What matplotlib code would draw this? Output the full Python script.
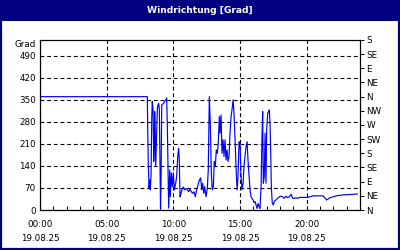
import matplotlib
matplotlib.use("Agg")
import matplotlib.pyplot as plt
from matplotlib.patches import Rectangle
from matplotlib.ticker import FixedLocator, MultipleLocator

title = "Windrichtung [Grad]"
unit_label = "Grad"

# time of day in hours (19.08.25) and wind direction in degrees
hours = [0.00, 8.05, 8.07, 8.12, 8.18, 8.23, 8.27, 8.33, 8.38, 8.42, 8.48, 8.53, 8.57, 8.60,
         8.65, 8.68, 8.74, 8.80, 8.85, 8.90, 8.95, 9.00, 9.04, 9.08, 9.13, 9.19, 9.25, 9.32,
         9.38, 9.44, 9.50, 9.55, 9.58, 9.65, 9.73, 9.77, 9.85, 9.92, 10.00, 10.07, 10.18,
         10.25, 10.33, 10.40, 10.45, 10.50, 10.58, 10.65, 10.75, 10.85, 10.95, 11.05, 11.15,
         11.25, 11.35, 11.45, 11.55, 11.65, 11.75, 11.85, 11.95, 12.05, 12.13, 12.20, 12.28,
         12.35, 12.45, 12.55, 12.62, 12.70, 12.77, 12.85, 12.92, 13.00, 13.07, 13.15, 13.22,
         13.30, 13.37, 13.45, 13.50, 13.58, 13.65, 13.73, 13.80, 13.88, 13.95, 14.03, 14.10,
         14.18, 14.25, 14.33, 14.40, 14.48, 14.55, 14.63, 14.70, 14.78, 14.85, 14.93, 15.00,
         15.08, 15.15, 15.23, 15.30, 15.38, 15.45, 15.53, 15.60, 15.68, 15.75, 15.83, 15.90,
         15.98, 16.05, 16.13, 16.20, 16.28, 16.35, 16.43, 16.50, 16.58, 16.65, 16.70, 16.75,
         16.82, 16.88, 16.95, 17.00, 17.08, 17.15, 17.20, 17.25, 17.30, 17.35, 17.42, 17.50,
         17.57, 17.70, 17.83, 17.95, 18.08, 18.20, 18.32, 18.45, 18.58, 18.70, 18.83, 18.95,
         19.07, 19.20, 19.33, 19.45, 19.73, 20.10, 20.48, 20.85, 21.23, 21.50, 21.75, 21.98,
         22.35, 22.73, 23.25, 23.80]
degrees = [360, 360, 286, 150, 69, 95, 64, 111, 290, 345, 318, 154, 200, 313,
           240, 140, 230, 320, 334, 338, 320, 140, 3, 100, 334, 336, 338, 342,
           346, 350, 356, 270, 196, 6, 127, 42, 118, 74, 118, 64, 86,
           107, 170, 196, 154, 42, 53, 64, 73, 64, 68, 64, 58,
           66, 58, 53, 58, 42, 64, 80, 95, 102, 64, 85, 53,
           74, 42, 69, 127, 360, 276, 118, 64, 74, 154, 138, 191,
           180, 212, 297, 244, 302, 180, 223, 170, 223, 159, 191, 154,
           170, 244, 297, 318, 350, 308, 223, 138, 64, 106, 217, 212,
           106, 64, 85, 138, 170, 201, 217, 159, 106, 64, 42, 37,
           32, 24, 27, 16, 5, 21, 11, 5, 74, 233, 313, 85,
           106, 244, 85, 255, 308, 313, 318, 276, 191, 74, 22, 16,
           27, 32, 37, 42, 44, 42, 37, 44, 39, 42, 50, 37,
           37, 39, 37, 40, 40, 40, 45, 45, 45, 32, 39, 42,
           46, 48, 49, 51]

x_major = [0, 5, 10, 15, 20]
x_labels = ["00:00\n19.08.25", "05:00\n19.08.25", "10:00\n19.08.25",
            "15:00\n19.08.25", "20:00\n19.08.25"]
y_left_ticks = [0, 70, 140, 210, 280, 350, 420, 490]
y_right_ticks = [0, 45, 90, 135, 180, 225, 270, 315, 360, 405, 450, 495, 540]
y_right_labels = ["N", "NE", "E", "SE", "S", "SW", "W", "NW", "N", "NE", "E", "SE", "S"]

navy = "#000080"
fs = 6.3

fig = plt.figure(figsize=(4, 2.5), dpi=100)
fig.patch.set_facecolor("white")

# title bar and border
fig.add_artist(Rectangle((0, 1 - 21 / 250), 1, 21 / 250, transform=fig.transFigure,
                         facecolor=navy, edgecolor="none", zorder=0))
fig.add_artist(Rectangle((0.0025, 0.004), 0.995, 0.992, transform=fig.transFigure,
                         facecolor="none", edgecolor=navy, linewidth=1.6, zorder=5))
fig.text(0.5, 1 - 10.5 / 250, title, color="white", fontsize=6.6, fontweight="bold",
         ha="center", va="center")

ax = fig.add_axes([0.1, 0.16, 0.8, 0.68])
ax.plot(hours, degrees, color="#0000ff", linewidth=0.85, zorder=3)
ax.set_xlim(0, 24)
ax.set_ylim(0, 540)

ax.set_xticks(x_major)
ax.set_xticklabels(x_labels, fontsize=fs, linespacing=1.75)
ax.xaxis.set_minor_locator(MultipleLocator(1))
ax.tick_params(axis="x", which="both", direction="in", length=3, width=0.7, pad=7,
               top=False)
ax.set_yticks(y_left_ticks)
ax.set_yticklabels([str(v) for v in y_left_ticks], fontsize=fs)
ax.tick_params(axis="y", which="both", length=0, pad=3)

ax.grid(True, color="black", linestyle=(0, (3.5, 2.5)), linewidth=0.8)

ax.text(-0.012, 540, unit_label, transform=ax.get_yaxis_transform(), fontsize=fs,
        ha="right", va="top")

ax2 = ax.twinx()
ax2.set_ylim(0, 540)
ax2.yaxis.set_major_locator(FixedLocator(y_right_ticks))
ax2.set_yticklabels(y_right_labels, fontsize=fs)
ax2.tick_params(axis="y", direction="out", length=3, width=0.7, pad=1.5)

for a in (ax, ax2):
    for s in a.spines.values():
        s.set_linewidth(0.8)
        s.set_color("black")

fig.savefig("out.png", dpi=100)
